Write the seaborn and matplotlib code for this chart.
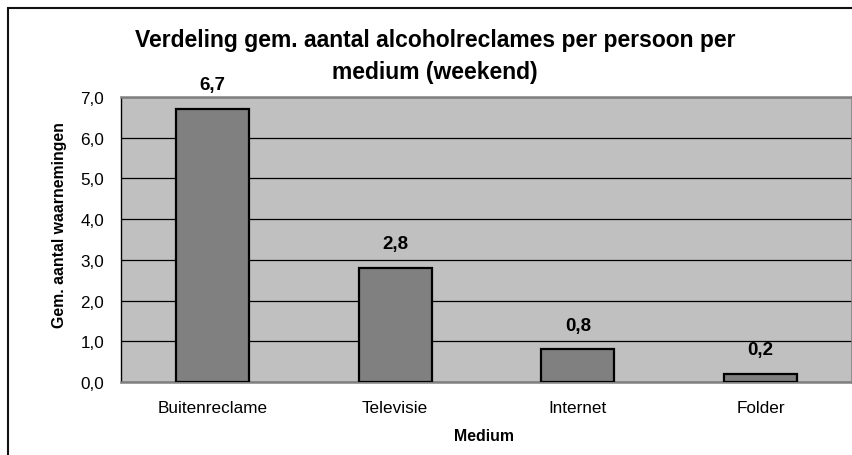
import matplotlib
matplotlib.use("Agg")
import matplotlib.pyplot as plt
import seaborn as sns
import pandas as pd
from matplotlib.patches import Rectangle
from matplotlib.ticker import FixedLocator

# Gemiddeld aantal waargenomen alcoholreclames per medium (weekend)
media = ["Buitenreclame", "Televisie", "Internet", "Folder"]
gemiddelden = [6.7, 2.8, 0.8, 0.2]
y_ticks = [0, 1, 2, 3, 4, 5, 6, 7]
y_tick_labels = ["0,0", "1,0", "2,0", "3,0", "4,0", "5,0", "6,0", "7,0"]

title_lines = ["Verdeling gem. aantal alcoholreclames per persoon per", "medium (weekend)"]
y_title = "Gem. aantal waarnemingen"
x_title = "Medium"

sns.set_style("white")
plt.rcParams["font.family"] = ["Liberation Sans", "DejaVu Sans"]
plt.rcParams.update({"text.color": "black", "axes.labelcolor": "black",
                     "xtick.color": "black", "ytick.color": "black"})

W, H = 853, 456
fig = plt.figure(figsize=(W / 100, H / 100), dpi=100)
fig.patch.set_facecolor("white")

# plot area in pixel coordinates
left, right, top, bottom = 121, 852, 98, 383
ax = fig.add_axes([left / W, 1 - bottom / H, (right - left) / W, (bottom - top) / H])

df = pd.DataFrame({"Medium": media, "Gemiddelde": gemiddelden})
sns.barplot(data=df, x="Medium", y="Gemiddelde", ax=ax, color="#808080",
            saturation=1, width=0.4, edgecolor="black", linewidth=1.6, zorder=3)

ax.set_facecolor("#C0C0C0")
ax.set_xlim(-0.5, len(media) - 0.5)
ax.set_ylim(0, 7)
ax.set_yticks(y_ticks)
ax.set_yticklabels(y_tick_labels)
ax.yaxis.grid(True, color="black", linewidth=0.9, zorder=1)
ax.set_axisbelow(True)

# category labels centred, tick marks between categories
ax.xaxis.set_minor_locator(FixedLocator([i - 0.5 for i in range(len(media) + 1)]))
ax.tick_params(axis="x", which="major", length=0, pad=13, labelsize=12.3, labelcolor="black")
ax.tick_params(axis="x", which="minor", length=4, width=1, color="black", direction="out")
ax.tick_params(axis="y", length=4, width=1, color="black", direction="out", pad=8,
               labelsize=12.3, labelcolor="black")
ax.set_xlabel("")
ax.set_ylabel("")

for side in ("top", "right", "bottom"):
    ax.spines[side].set_color("#808080")
    ax.spines[side].set_linewidth(1.8)
ax.spines["left"].set_color("black")
ax.spines["left"].set_linewidth(1)

# value labels above the bars
for i, v in enumerate(gemiddelden):
    ax.annotate(f"{v:.1f}".replace(".", ","), (i, v), xytext=(0, 17.5),
                textcoords="offset points", ha="center", va="center",
                fontsize=13.5, fontweight="bold", color="black")

# titles
fig.text(435 / W, 1 - 47 / H, title_lines[0], ha="center", va="baseline",
         fontsize=16.5, fontweight="bold", color="black")
fig.text(435 / W, 1 - 79 / H, title_lines[1], ha="center", va="baseline",
         fontsize=16.5, fontweight="bold", color="black")
fig.text(60 / W, 1 - 225 / H, y_title, ha="center", va="center", rotation=90,
         fontsize=11.4, fontweight="bold", color="black")
fig.text(484 / W, 1 - 437 / H, x_title, ha="center", va="center",
         fontsize=11.4, fontweight="bold", color="black")

# chart frame
fig.add_artist(Rectangle((8 / W, -0.2), 1.2, 1 - 9 / H + 0.2, transform=fig.transFigure,
                         fill=False, edgecolor="#111111", linewidth=1.5))

fig.savefig("out.png", dpi=100)
